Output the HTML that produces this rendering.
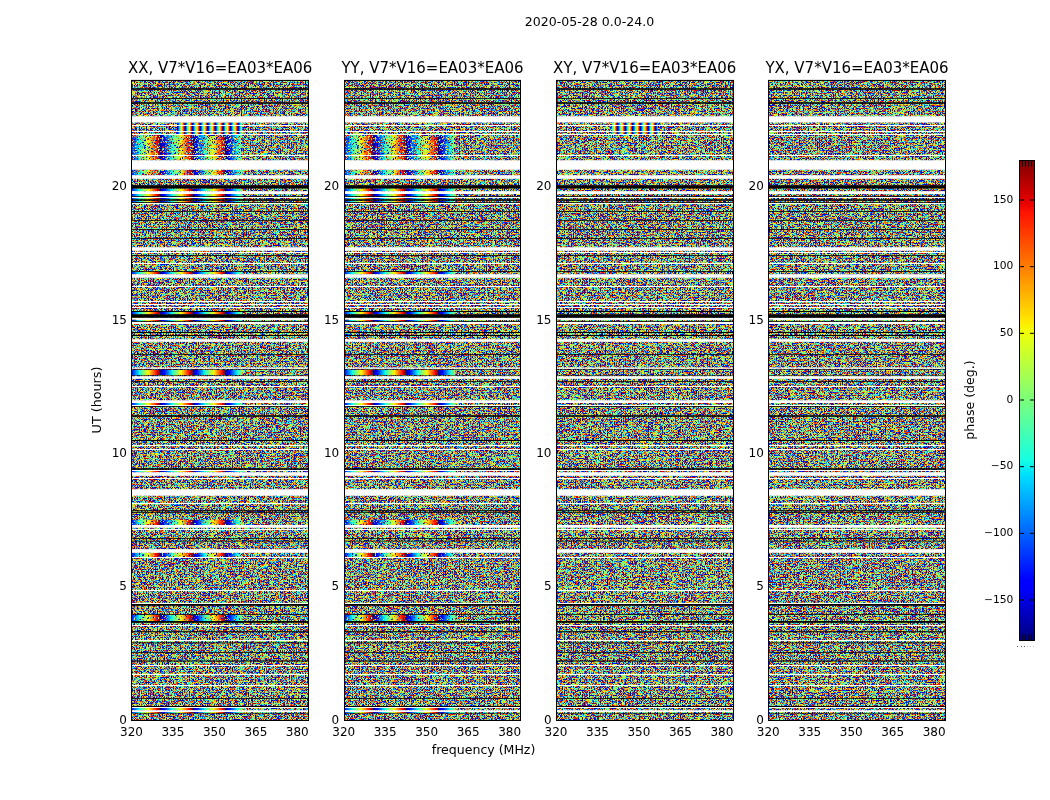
<!DOCTYPE html>
<html><head><meta charset="utf-8"><title>2020-05-28 0.0-24.0</title>
<style>html,body{margin:0;padding:0;background:#fff;width:1050px;height:800px;overflow:hidden}svg{position:absolute;left:0;top:0;display:block}text{font-family:"DejaVu Sans","Liberation Sans",sans-serif;fill:#000}</style></head>
<body>
<svg width="1050" height="800" viewBox="0 0 1050 800">
<defs>
<filter id="n0" x="0" y="0" width="100%" height="100%" filterUnits="objectBoundingBox" color-interpolation-filters="sRGB"><feTurbulence type="fractalNoise" baseFrequency="0.56 0.62" numOctaves="1" seed="3"/><feColorMatrix type="matrix" values="1 0 0 0 0  1 0 0 0 0  1 0 0 0 0  0 0 0 0 1"/><feComponentTransfer><feFuncR type="table" tableValues="0.000 0.000 0.000 0.000 0.000 0.000 0.000 0.000 0.000 0.000 0.000 0.000 0.000 0.000 0.000 0.000 0.000 0.000 0.000 0.000 0.000 0.000 0.000 0.000 0.000 0.000 0.000 0.000 0.000 0.000 0.000 0.000 0.000 0.000 0.000 0.000 0.000 0.000 0.000 0.022 0.162 0.302 0.444 0.585 0.727 0.866 1.000 1.000 1.000 1.000 1.000 1.000 1.000 1.000 0.995 0.910 0.835 0.769 0.708 0.656 0.611 0.575 0.548 0.529 0.517 0.511 0.507 0.504 0.502 0.501 0.500 0.500 0.500 0.500 0.500 0.500 0.500 0.500 0.500 0.500 0.500 0.500 0.500 0.500 0.500 0.500"/><feFuncG type="table" tableValues="0.000 0.000 0.000 0.000 0.000 0.000 0.000 0.000 0.000 0.000 0.000 0.000 0.000 0.000 0.000 0.000 0.000 0.000 0.000 0.000 0.000 0.000 0.000 0.000 0.000 0.000 0.000 0.000 0.000 0.000 0.000 0.000 0.041 0.133 0.234 0.342 0.465 0.601 0.756 0.927 1.000 1.000 1.000 1.000 1.000 1.000 0.919 0.763 0.630 0.513 0.408 0.313 0.228 0.147 0.070 0.001 0.000 0.000 0.000 0.000 0.000 0.000 0.000 0.000 0.000 0.000 0.000 0.000 0.000 0.000 0.000 0.000 0.000 0.000 0.000 0.000 0.000 0.000 0.000 0.000 0.000 0.000 0.000 0.000 0.000 0.000"/><feFuncB type="table" tableValues="0.500 0.500 0.500 0.500 0.500 0.500 0.500 0.500 0.500 0.500 0.500 0.500 0.500 0.500 0.500 0.500 0.501 0.502 0.504 0.506 0.511 0.518 0.529 0.548 0.575 0.610 0.657 0.712 0.778 0.850 0.932 1.000 1.000 1.000 1.000 1.000 1.000 1.000 1.000 0.946 0.806 0.666 0.524 0.382 0.240 0.102 0.000 0.000 0.000 0.000 0.000 0.000 0.000 0.000 0.000 0.000 0.000 0.000 0.000 0.000 0.000 0.000 0.000 0.000 0.000 0.000 0.000 0.000 0.000 0.000 0.000 0.000 0.000 0.000 0.000 0.000 0.000 0.000 0.000 0.000 0.000 0.000 0.000 0.000 0.000 0.000"/></feComponentTransfer></filter>
<filter id="n1" x="0" y="0" width="100%" height="100%" filterUnits="objectBoundingBox" color-interpolation-filters="sRGB"><feTurbulence type="fractalNoise" baseFrequency="0.56 0.62" numOctaves="1" seed="10"/><feColorMatrix type="matrix" values="1 0 0 0 0  1 0 0 0 0  1 0 0 0 0  0 0 0 0 1"/><feComponentTransfer><feFuncR type="table" tableValues="0.000 0.000 0.000 0.000 0.000 0.000 0.000 0.000 0.000 0.000 0.000 0.000 0.000 0.000 0.000 0.000 0.000 0.000 0.000 0.000 0.000 0.000 0.000 0.000 0.000 0.000 0.000 0.000 0.000 0.000 0.000 0.000 0.000 0.000 0.000 0.000 0.000 0.000 0.000 0.022 0.162 0.302 0.444 0.585 0.727 0.866 1.000 1.000 1.000 1.000 1.000 1.000 1.000 1.000 0.995 0.910 0.835 0.769 0.708 0.656 0.611 0.575 0.548 0.529 0.517 0.511 0.507 0.504 0.502 0.501 0.500 0.500 0.500 0.500 0.500 0.500 0.500 0.500 0.500 0.500 0.500 0.500 0.500 0.500 0.500 0.500"/><feFuncG type="table" tableValues="0.000 0.000 0.000 0.000 0.000 0.000 0.000 0.000 0.000 0.000 0.000 0.000 0.000 0.000 0.000 0.000 0.000 0.000 0.000 0.000 0.000 0.000 0.000 0.000 0.000 0.000 0.000 0.000 0.000 0.000 0.000 0.000 0.041 0.133 0.234 0.342 0.465 0.601 0.756 0.927 1.000 1.000 1.000 1.000 1.000 1.000 0.919 0.763 0.630 0.513 0.408 0.313 0.228 0.147 0.070 0.001 0.000 0.000 0.000 0.000 0.000 0.000 0.000 0.000 0.000 0.000 0.000 0.000 0.000 0.000 0.000 0.000 0.000 0.000 0.000 0.000 0.000 0.000 0.000 0.000 0.000 0.000 0.000 0.000 0.000 0.000"/><feFuncB type="table" tableValues="0.500 0.500 0.500 0.500 0.500 0.500 0.500 0.500 0.500 0.500 0.500 0.500 0.500 0.500 0.500 0.500 0.501 0.502 0.504 0.506 0.511 0.518 0.529 0.548 0.575 0.610 0.657 0.712 0.778 0.850 0.932 1.000 1.000 1.000 1.000 1.000 1.000 1.000 1.000 0.946 0.806 0.666 0.524 0.382 0.240 0.102 0.000 0.000 0.000 0.000 0.000 0.000 0.000 0.000 0.000 0.000 0.000 0.000 0.000 0.000 0.000 0.000 0.000 0.000 0.000 0.000 0.000 0.000 0.000 0.000 0.000 0.000 0.000 0.000 0.000 0.000 0.000 0.000 0.000 0.000 0.000 0.000 0.000 0.000 0.000 0.000"/></feComponentTransfer></filter>
<filter id="n2" x="0" y="0" width="100%" height="100%" filterUnits="objectBoundingBox" color-interpolation-filters="sRGB"><feTurbulence type="fractalNoise" baseFrequency="0.56 0.62" numOctaves="1" seed="17"/><feColorMatrix type="matrix" values="1 0 0 0 0  1 0 0 0 0  1 0 0 0 0  0 0 0 0 1"/><feComponentTransfer><feFuncR type="table" tableValues="0.000 0.000 0.000 0.000 0.000 0.000 0.000 0.000 0.000 0.000 0.000 0.000 0.000 0.000 0.000 0.000 0.000 0.000 0.000 0.000 0.000 0.000 0.000 0.000 0.000 0.000 0.000 0.000 0.000 0.000 0.000 0.000 0.000 0.000 0.000 0.000 0.000 0.000 0.000 0.022 0.162 0.302 0.444 0.585 0.727 0.866 1.000 1.000 1.000 1.000 1.000 1.000 1.000 1.000 0.995 0.910 0.835 0.769 0.708 0.656 0.611 0.575 0.548 0.529 0.517 0.511 0.507 0.504 0.502 0.501 0.500 0.500 0.500 0.500 0.500 0.500 0.500 0.500 0.500 0.500 0.500 0.500 0.500 0.500 0.500 0.500"/><feFuncG type="table" tableValues="0.000 0.000 0.000 0.000 0.000 0.000 0.000 0.000 0.000 0.000 0.000 0.000 0.000 0.000 0.000 0.000 0.000 0.000 0.000 0.000 0.000 0.000 0.000 0.000 0.000 0.000 0.000 0.000 0.000 0.000 0.000 0.000 0.041 0.133 0.234 0.342 0.465 0.601 0.756 0.927 1.000 1.000 1.000 1.000 1.000 1.000 0.919 0.763 0.630 0.513 0.408 0.313 0.228 0.147 0.070 0.001 0.000 0.000 0.000 0.000 0.000 0.000 0.000 0.000 0.000 0.000 0.000 0.000 0.000 0.000 0.000 0.000 0.000 0.000 0.000 0.000 0.000 0.000 0.000 0.000 0.000 0.000 0.000 0.000 0.000 0.000"/><feFuncB type="table" tableValues="0.500 0.500 0.500 0.500 0.500 0.500 0.500 0.500 0.500 0.500 0.500 0.500 0.500 0.500 0.500 0.500 0.501 0.502 0.504 0.506 0.511 0.518 0.529 0.548 0.575 0.610 0.657 0.712 0.778 0.850 0.932 1.000 1.000 1.000 1.000 1.000 1.000 1.000 1.000 0.946 0.806 0.666 0.524 0.382 0.240 0.102 0.000 0.000 0.000 0.000 0.000 0.000 0.000 0.000 0.000 0.000 0.000 0.000 0.000 0.000 0.000 0.000 0.000 0.000 0.000 0.000 0.000 0.000 0.000 0.000 0.000 0.000 0.000 0.000 0.000 0.000 0.000 0.000 0.000 0.000 0.000 0.000 0.000 0.000 0.000 0.000"/></feComponentTransfer></filter>
<filter id="n3" x="0" y="0" width="100%" height="100%" filterUnits="objectBoundingBox" color-interpolation-filters="sRGB"><feTurbulence type="fractalNoise" baseFrequency="0.56 0.62" numOctaves="1" seed="24"/><feColorMatrix type="matrix" values="1 0 0 0 0  1 0 0 0 0  1 0 0 0 0  0 0 0 0 1"/><feComponentTransfer><feFuncR type="table" tableValues="0.000 0.000 0.000 0.000 0.000 0.000 0.000 0.000 0.000 0.000 0.000 0.000 0.000 0.000 0.000 0.000 0.000 0.000 0.000 0.000 0.000 0.000 0.000 0.000 0.000 0.000 0.000 0.000 0.000 0.000 0.000 0.000 0.000 0.000 0.000 0.000 0.000 0.000 0.000 0.022 0.162 0.302 0.444 0.585 0.727 0.866 1.000 1.000 1.000 1.000 1.000 1.000 1.000 1.000 0.995 0.910 0.835 0.769 0.708 0.656 0.611 0.575 0.548 0.529 0.517 0.511 0.507 0.504 0.502 0.501 0.500 0.500 0.500 0.500 0.500 0.500 0.500 0.500 0.500 0.500 0.500 0.500 0.500 0.500 0.500 0.500"/><feFuncG type="table" tableValues="0.000 0.000 0.000 0.000 0.000 0.000 0.000 0.000 0.000 0.000 0.000 0.000 0.000 0.000 0.000 0.000 0.000 0.000 0.000 0.000 0.000 0.000 0.000 0.000 0.000 0.000 0.000 0.000 0.000 0.000 0.000 0.000 0.041 0.133 0.234 0.342 0.465 0.601 0.756 0.927 1.000 1.000 1.000 1.000 1.000 1.000 0.919 0.763 0.630 0.513 0.408 0.313 0.228 0.147 0.070 0.001 0.000 0.000 0.000 0.000 0.000 0.000 0.000 0.000 0.000 0.000 0.000 0.000 0.000 0.000 0.000 0.000 0.000 0.000 0.000 0.000 0.000 0.000 0.000 0.000 0.000 0.000 0.000 0.000 0.000 0.000"/><feFuncB type="table" tableValues="0.500 0.500 0.500 0.500 0.500 0.500 0.500 0.500 0.500 0.500 0.500 0.500 0.500 0.500 0.500 0.500 0.501 0.502 0.504 0.506 0.511 0.518 0.529 0.548 0.575 0.610 0.657 0.712 0.778 0.850 0.932 1.000 1.000 1.000 1.000 1.000 1.000 1.000 1.000 0.946 0.806 0.666 0.524 0.382 0.240 0.102 0.000 0.000 0.000 0.000 0.000 0.000 0.000 0.000 0.000 0.000 0.000 0.000 0.000 0.000 0.000 0.000 0.000 0.000 0.000 0.000 0.000 0.000 0.000 0.000 0.000 0.000 0.000 0.000 0.000 0.000 0.000 0.000 0.000 0.000 0.000 0.000 0.000 0.000 0.000 0.000"/></feComponentTransfer></filter>
<filter id="sp" x="0" y="0" width="100%" height="100%" color-interpolation-filters="sRGB"><feTurbulence type="fractalNoise" baseFrequency="0.56 0.62" numOctaves="1" seed="41"/><feColorMatrix type="matrix" values="1 0 0 0 0  1 0 0 0 0  1 0 0 0 0  0 60 0 0 -34.2"/><feComponentTransfer><feFuncR type="table" tableValues="0.000 0.000 0.000 0.000 0.000 0.000 0.000 0.000 0.000 0.000 0.000 0.000 0.000 0.000 0.000 0.000 0.000 0.000 0.000 0.000 0.000 0.000 0.000 0.000 0.000 0.000 0.000 0.000 0.000 0.000 0.000 0.000 0.000 0.000 0.000 0.000 0.000 0.000 0.000 0.022 0.162 0.302 0.444 0.585 0.727 0.866 1.000 1.000 1.000 1.000 1.000 1.000 1.000 1.000 0.995 0.910 0.835 0.769 0.708 0.656 0.611 0.575 0.548 0.529 0.517 0.511 0.507 0.504 0.502 0.501 0.500 0.500 0.500 0.500 0.500 0.500 0.500 0.500 0.500 0.500 0.500 0.500 0.500 0.500 0.500 0.500"/><feFuncG type="table" tableValues="0.000 0.000 0.000 0.000 0.000 0.000 0.000 0.000 0.000 0.000 0.000 0.000 0.000 0.000 0.000 0.000 0.000 0.000 0.000 0.000 0.000 0.000 0.000 0.000 0.000 0.000 0.000 0.000 0.000 0.000 0.000 0.000 0.041 0.133 0.234 0.342 0.465 0.601 0.756 0.927 1.000 1.000 1.000 1.000 1.000 1.000 0.919 0.763 0.630 0.513 0.408 0.313 0.228 0.147 0.070 0.001 0.000 0.000 0.000 0.000 0.000 0.000 0.000 0.000 0.000 0.000 0.000 0.000 0.000 0.000 0.000 0.000 0.000 0.000 0.000 0.000 0.000 0.000 0.000 0.000 0.000 0.000 0.000 0.000 0.000 0.000"/><feFuncB type="table" tableValues="0.500 0.500 0.500 0.500 0.500 0.500 0.500 0.500 0.500 0.500 0.500 0.500 0.500 0.500 0.500 0.500 0.501 0.502 0.504 0.506 0.511 0.518 0.529 0.548 0.575 0.610 0.657 0.712 0.778 0.850 0.932 1.000 1.000 1.000 1.000 1.000 1.000 1.000 1.000 0.946 0.806 0.666 0.524 0.382 0.240 0.102 0.000 0.000 0.000 0.000 0.000 0.000 0.000 0.000 0.000 0.000 0.000 0.000 0.000 0.000 0.000 0.000 0.000 0.000 0.000 0.000 0.000 0.000 0.000 0.000 0.000 0.000 0.000 0.000 0.000 0.000 0.000 0.000 0.000 0.000 0.000 0.000 0.000 0.000 0.000 0.000"/></feComponentTransfer></filter>
<filter id="sp2" x="0" y="0" width="100%" height="100%" color-interpolation-filters="sRGB"><feTurbulence type="fractalNoise" baseFrequency="0.56 0.62" numOctaves="1" seed="77"/><feColorMatrix type="matrix" values="1 0 0 0 0  1 0 0 0 0  1 0 0 0 0  0 60 0 0 -30.6"/><feComponentTransfer><feFuncR type="table" tableValues="0.000 0.000 0.000 0.000 0.000 0.000 0.000 0.000 0.000 0.000 0.000 0.000 0.000 0.000 0.000 0.000 0.000 0.000 0.000 0.000 0.000 0.000 0.000 0.000 0.000 0.000 0.000 0.000 0.000 0.000 0.000 0.000 0.000 0.000 0.000 0.000 0.000 0.000 0.000 0.022 0.162 0.302 0.444 0.585 0.727 0.866 1.000 1.000 1.000 1.000 1.000 1.000 1.000 1.000 0.995 0.910 0.835 0.769 0.708 0.656 0.611 0.575 0.548 0.529 0.517 0.511 0.507 0.504 0.502 0.501 0.500 0.500 0.500 0.500 0.500 0.500 0.500 0.500 0.500 0.500 0.500 0.500 0.500 0.500 0.500 0.500"/><feFuncG type="table" tableValues="0.000 0.000 0.000 0.000 0.000 0.000 0.000 0.000 0.000 0.000 0.000 0.000 0.000 0.000 0.000 0.000 0.000 0.000 0.000 0.000 0.000 0.000 0.000 0.000 0.000 0.000 0.000 0.000 0.000 0.000 0.000 0.000 0.041 0.133 0.234 0.342 0.465 0.601 0.756 0.927 1.000 1.000 1.000 1.000 1.000 1.000 0.919 0.763 0.630 0.513 0.408 0.313 0.228 0.147 0.070 0.001 0.000 0.000 0.000 0.000 0.000 0.000 0.000 0.000 0.000 0.000 0.000 0.000 0.000 0.000 0.000 0.000 0.000 0.000 0.000 0.000 0.000 0.000 0.000 0.000 0.000 0.000 0.000 0.000 0.000 0.000"/><feFuncB type="table" tableValues="0.500 0.500 0.500 0.500 0.500 0.500 0.500 0.500 0.500 0.500 0.500 0.500 0.500 0.500 0.500 0.500 0.501 0.502 0.504 0.506 0.511 0.518 0.529 0.548 0.575 0.610 0.657 0.712 0.778 0.850 0.932 1.000 1.000 1.000 1.000 1.000 1.000 1.000 1.000 0.946 0.806 0.666 0.524 0.382 0.240 0.102 0.000 0.000 0.000 0.000 0.000 0.000 0.000 0.000 0.000 0.000 0.000 0.000 0.000 0.000 0.000 0.000 0.000 0.000 0.000 0.000 0.000 0.000 0.000 0.000 0.000 0.000 0.000 0.000 0.000 0.000 0.000 0.000 0.000 0.000 0.000 0.000 0.000 0.000 0.000 0.000"/></feComponentTransfer></filter>
<linearGradient id="fr" gradientUnits="userSpaceOnUse" x1="28.0" y1="0" x2="60.7" y2="0" spreadMethod="repeat"><stop offset="0" stop-color="#000080"/><stop offset="0.11" stop-color="#0000ff"/><stop offset="0.125" stop-color="#0000ff"/><stop offset="0.34" stop-color="#00dbff"/><stop offset="0.35" stop-color="#00e5f7"/><stop offset="0.375" stop-color="#15ffe2"/><stop offset="0.5" stop-color="#7bff7b"/><stop offset="0.64" stop-color="#efff08"/><stop offset="0.65" stop-color="#f7f600"/><stop offset="0.66" stop-color="#ffec00"/><stop offset="0.89" stop-color="#ff1300"/><stop offset="0.91" stop-color="#e80000"/><stop offset="1" stop-color="#800000"/></linearGradient>
<linearGradient id="ff" gradientUnits="userSpaceOnUse" x1="45" y1="0" x2="52.6" y2="0" spreadMethod="repeat"><stop offset="0" stop-color="#000080"/><stop offset="0.11" stop-color="#0000ff"/><stop offset="0.125" stop-color="#0000ff"/><stop offset="0.34" stop-color="#00dbff"/><stop offset="0.35" stop-color="#00e5f7"/><stop offset="0.375" stop-color="#15ffe2"/><stop offset="0.5" stop-color="#7bff7b"/><stop offset="0.64" stop-color="#efff08"/><stop offset="0.65" stop-color="#f7f600"/><stop offset="0.66" stop-color="#ffec00"/><stop offset="0.89" stop-color="#ff1300"/><stop offset="0.91" stop-color="#e80000"/><stop offset="1" stop-color="#800000"/></linearGradient>
<linearGradient id="cb" gradientUnits="userSpaceOnUse" x1="0" y1="640" x2="0" y2="160"><stop offset="0" stop-color="#000080"/><stop offset="0.11" stop-color="#0000ff"/><stop offset="0.125" stop-color="#0000ff"/><stop offset="0.34" stop-color="#00dbff"/><stop offset="0.35" stop-color="#00e5f7"/><stop offset="0.375" stop-color="#15ffe2"/><stop offset="0.5" stop-color="#7bff7b"/><stop offset="0.64" stop-color="#efff08"/><stop offset="0.65" stop-color="#f7f600"/><stop offset="0.66" stop-color="#ffec00"/><stop offset="0.89" stop-color="#ff1300"/><stop offset="0.91" stop-color="#e80000"/><stop offset="1" stop-color="#800000"/></linearGradient>
</defs>
<text transform="translate(524.80,26.00) scale(1.0050,1)" font-size="12.5">2020-05-28 0.0-24.0</text>
<g transform="translate(132,0)">
<rect x="0" y="80.7" width="176" height="638.8" fill="#778677" filter="url(#n0)"/>
<rect x="0" y="135" width="110.3" height="25" fill="url(#fr)"/><rect x="0" y="135" width="110.3" height="25" filter="url(#sp2)"/><rect x="0" y="170" width="110.3" height="5" fill="url(#fr)"/><rect x="0" y="170" width="110.3" height="5" filter="url(#sp2)"/><rect x="0" y="188.6" width="110.3" height="2.4" fill="url(#fr)"/><rect x="0" y="193.9" width="110.3" height="2.3" fill="url(#fr)"/><rect x="0" y="197.9" width="110.3" height="1.3" fill="url(#fr)"/><rect x="0" y="200.8" width="110.3" height="1.5" fill="url(#fr)"/><rect x="0" y="272" width="110.3" height="2" fill="url(#fr)"/><rect x="0" y="311.9" width="110.3" height="2.3" fill="url(#fr)"/><rect x="0" y="319.9" width="110.3" height="1.1" fill="url(#fr)"/><rect x="0" y="370" width="110.3" height="5" fill="url(#fr)"/><rect x="0" y="402.9" width="110.3" height="2.1" fill="url(#fr)"/><rect x="0" y="471" width="110.3" height="1" fill="url(#fr)"/><rect x="0" y="519.8" width="110.3" height="5.3" fill="url(#fr)"/><rect x="0" y="519.8" width="110.3" height="5.3" filter="url(#sp)"/><rect x="0" y="553" width="110.3" height="4" fill="url(#fr)"/><rect x="0" y="553" width="110.3" height="4" filter="url(#sp)"/><rect x="0" y="614.9" width="110.3" height="6.2" fill="url(#fr)"/><rect x="0" y="614.9" width="110.3" height="6.2" filter="url(#sp)"/><rect x="0" y="707.7" width="110.3" height="2.6" fill="url(#fr)"/><rect x="0" y="711.9" width="110.3" height="1" fill="url(#fr)"/>
<rect x="45" y="122.5" width="65.3" height="2.5" fill="url(#ff)"/><rect x="45" y="126" width="65.3" height="5.5" fill="url(#ff)"/><rect x="45" y="132.3" width="65.3" height="1.7" fill="url(#ff)"/>
<path d="M0 116.15h176v6.35h-176zM0 125h176v1h-176zM0 131h176v1h-176zM0 134h176v1h-176zM0 155h176v1h-176zM0 160.15h176v9.7h-176zM0 175.15h176v3.7h-176zM0 191.15h176v2.75h-176zM0 197h176v1h-176zM0 203h176v1h-176zM0 247.15h176v3.7h-176zM0 252h176v1h-176zM0 263h176v1h-176zM0 274.15h176v3.7h-176zM0 286h176v1h-176zM0 301h176v1h-176zM0 304h176v1h-176zM0 307h176v1h-176zM0 317.8h176v2.1h-176zM0 321.8h176v2.1h-176zM0 339.2h176v2.6h-176zM0 367.5h176v1.35h-176zM0 376.15h176v2.7h-176zM0 386h176v1h-176zM0 400.2h176v2.7h-176zM0 405h176v1h-176zM0 445h176v1h-176zM0 449h176v1h-176zM0 470h176v1h-176zM0 472.15h176v3.65h-176zM0 478h176v1h-176zM0 489.15h176v6.65h-176zM0 503h176v1h-176zM0 525.1h176v2.75h-176zM0 529h176v1h-176zM0 549.15h176v3.7h-176zM0 557h176v1h-176zM0 590h176v1h-176zM0 603h176v1h-176zM0 625h176v1h-176zM0 640h176v1h-176zM0 665h176v1h-176zM0 674h176v1h-176zM0 685h176v1h-176zM0 707h176v1h-176zM0 710.3h176v1.6h-176z" fill="#fff"/>
<path d="M0 88.2h176v1.5h-176zM0 98.1h176v0.7h-176zM0 102.2h176v1.5h-176zM0 185.3h176v3.3h-176zM0 196.2h176v0.8h-176zM0 199.2h176v1.6h-176zM0 202.3h176v0.6h-176zM0 211h176v0.7h-176zM0 220h176v0.7h-176zM0 229h176v0.7h-176zM0 238h176v0.7h-176zM0 255h176v0.7h-176zM0 271.3h176v0.7h-176zM0 311.1h176v0.8h-176zM0 314.2h176v3.6h-176zM0 321h176v0.7h-176zM0 332.1h176v0.8h-176zM0 335.1h176v0.8h-176zM0 354h176v0.7h-176zM0 369h176v0.6h-176zM0 375h176v0.6h-176zM0 381h176v0.7h-176zM0 406h176v0.7h-176zM0 415.2h176v1.6h-176zM0 440h176v1h-176zM0 468.15h176v1.65h-176zM0 510h176v0.7h-176zM0 511.8h176v1h-176zM0 538h176v0.8h-176zM0 540.8h176v0.8h-176zM0 604.1h176v1.6h-176zM0 614.2h176v0.7h-176zM0 621.1h176v1.6h-176zM0 631.2h176v1h-176zM0 642.5h176v0.7h-176zM0 652h176v0.8h-176zM0 660.5h176v1h-176zM0 698h176v0.8h-176zM0 706.1h176v0.8h-176zM0 712.9h176v0.6h-176z" fill="#000"/>
</g>
<path d="M173.5 720v-4.5M173.5 81v4M214.5 720v-4.5M214.5 81v4M256.5 720v-4.5M256.5 81v4M297.5 720v-4.5M297.5 81v4M132 586.67h4M308 586.67h-4M132 453.33h4M308 453.33h-4M132 320.00h4M308 320.00h-4M132 186.67h4M308 186.67h-4" stroke="#000" stroke-width="0.5" fill="none"/>
<rect x="131.5" y="80.4" width="177" height="640.1" fill="none" stroke="#000" stroke-width="1"/>
<text transform="translate(220.15,73.00) scale(0.9370,1)" font-size="16" text-anchor="middle">XX, V7*V16=EA03*EA06</text>
<text transform="translate(131.45,736.00) scale(1.0000,1)" font-size="12" text-anchor="middle">320</text><text transform="translate(172.91,736.00) scale(1.0000,1)" font-size="12" text-anchor="middle">335</text><text transform="translate(214.37,736.00) scale(1.0000,1)" font-size="12" text-anchor="middle">350</text><text transform="translate(255.83,736.00) scale(1.0000,1)" font-size="12" text-anchor="middle">365</text><text transform="translate(297.30,736.00) scale(1.0000,1)" font-size="12" text-anchor="middle">380</text>
<text transform="translate(126.95,724.00) scale(1.0000,1)" font-size="12" text-anchor="end">0</text><text transform="translate(126.95,590.00) scale(1.0000,1)" font-size="12" text-anchor="end">5</text><text transform="translate(126.95,457.00) scale(1.0000,1)" font-size="12" text-anchor="end">10</text><text transform="translate(126.95,324.00) scale(1.0000,1)" font-size="12" text-anchor="end">15</text><text transform="translate(126.95,190.00) scale(1.0000,1)" font-size="12" text-anchor="end">20</text>
<g transform="translate(345,0)">
<rect x="0" y="80.7" width="175" height="638.8" fill="#778677" filter="url(#n1)"/>
<rect x="0" y="135" width="110.3" height="25" fill="url(#fr)"/><rect x="0" y="135" width="110.3" height="25" filter="url(#sp2)"/><rect x="0" y="170" width="110.3" height="5" fill="url(#fr)"/><rect x="0" y="170" width="110.3" height="5" filter="url(#sp2)"/><rect x="0" y="188.6" width="110.3" height="2.4" fill="url(#fr)"/><rect x="0" y="193.9" width="110.3" height="2.3" fill="url(#fr)"/><rect x="0" y="197.9" width="110.3" height="1.3" fill="url(#fr)"/><rect x="0" y="200.8" width="110.3" height="1.5" fill="url(#fr)"/><rect x="0" y="272" width="110.3" height="2" fill="url(#fr)"/><rect x="0" y="311.9" width="110.3" height="2.3" fill="url(#fr)"/><rect x="0" y="319.9" width="110.3" height="1.1" fill="url(#fr)"/><rect x="0" y="370" width="110.3" height="5" fill="url(#fr)"/><rect x="0" y="402.9" width="110.3" height="2.1" fill="url(#fr)"/><rect x="0" y="471" width="110.3" height="1" fill="url(#fr)"/><rect x="0" y="519.8" width="110.3" height="5.3" fill="url(#fr)"/><rect x="0" y="519.8" width="110.3" height="5.3" filter="url(#sp)"/><rect x="0" y="553" width="110.3" height="4" fill="url(#fr)"/><rect x="0" y="553" width="110.3" height="4" filter="url(#sp)"/><rect x="0" y="614.9" width="110.3" height="6.2" fill="url(#fr)"/><rect x="0" y="614.9" width="110.3" height="6.2" filter="url(#sp)"/><rect x="0" y="707.7" width="110.3" height="2.6" fill="url(#fr)"/><rect x="0" y="711.9" width="110.3" height="1" fill="url(#fr)"/>
<path d="M0 116.15h175v6.35h-175zM0 125h175v1h-175zM0 131h175v1h-175zM0 134h175v1h-175zM0 155h175v1h-175zM0 160.15h175v9.7h-175zM0 175.15h175v3.7h-175zM0 191.15h175v2.75h-175zM0 197h175v1h-175zM0 203h175v1h-175zM0 247.15h175v3.7h-175zM0 252h175v1h-175zM0 263h175v1h-175zM0 274.15h175v3.7h-175zM0 286h175v1h-175zM0 301h175v1h-175zM0 304h175v1h-175zM0 307h175v1h-175zM0 317.8h175v2.1h-175zM0 321.8h175v2.1h-175zM0 339.2h175v2.6h-175zM0 367.5h175v1.35h-175zM0 376.15h175v2.7h-175zM0 386h175v1h-175zM0 400.2h175v2.7h-175zM0 405h175v1h-175zM0 445h175v1h-175zM0 449h175v1h-175zM0 470h175v1h-175zM0 472.15h175v3.65h-175zM0 478h175v1h-175zM0 489.15h175v6.65h-175zM0 503h175v1h-175zM0 525.1h175v2.75h-175zM0 529h175v1h-175zM0 549.15h175v3.7h-175zM0 557h175v1h-175zM0 590h175v1h-175zM0 603h175v1h-175zM0 625h175v1h-175zM0 640h175v1h-175zM0 665h175v1h-175zM0 674h175v1h-175zM0 685h175v1h-175zM0 707h175v1h-175zM0 710.3h175v1.6h-175z" fill="#fff"/>
<path d="M0 88.2h175v1.5h-175zM0 98.1h175v0.7h-175zM0 102.2h175v1.5h-175zM0 185.3h175v3.3h-175zM0 196.2h175v0.8h-175zM0 199.2h175v1.6h-175zM0 202.3h175v0.6h-175zM0 211h175v0.7h-175zM0 220h175v0.7h-175zM0 229h175v0.7h-175zM0 238h175v0.7h-175zM0 255h175v0.7h-175zM0 271.3h175v0.7h-175zM0 311.1h175v0.8h-175zM0 314.2h175v3.6h-175zM0 321h175v0.7h-175zM0 332.1h175v0.8h-175zM0 335.1h175v0.8h-175zM0 354h175v0.7h-175zM0 369h175v0.6h-175zM0 375h175v0.6h-175zM0 381h175v0.7h-175zM0 406h175v0.7h-175zM0 415.2h175v1.6h-175zM0 440h175v1h-175zM0 468.15h175v1.65h-175zM0 510h175v0.7h-175zM0 511.8h175v1h-175zM0 538h175v0.8h-175zM0 540.8h175v0.8h-175zM0 604.1h175v1.6h-175zM0 614.2h175v0.7h-175zM0 621.1h175v1.6h-175zM0 631.2h175v1h-175zM0 642.5h175v0.7h-175zM0 652h175v0.8h-175zM0 660.5h175v1h-175zM0 698h175v0.8h-175zM0 706.1h175v0.8h-175zM0 712.9h175v0.6h-175z" fill="#000"/>
</g>
<path d="M385.5 720v-4.5M385.5 81v4M426.5 720v-4.5M426.5 81v4M468.5 720v-4.5M468.5 81v4M509.5 720v-4.5M509.5 81v4M345 586.67h4M520 586.67h-4M345 453.33h4M520 453.33h-4M345 320.00h4M520 320.00h-4M345 186.67h4M520 186.67h-4" stroke="#000" stroke-width="0.5" fill="none"/>
<rect x="344.5" y="80.4" width="176" height="640.1" fill="none" stroke="#000" stroke-width="1"/>
<text transform="translate(432.43,73.00) scale(0.9370,1)" font-size="16" text-anchor="middle">YY, V7*V16=EA03*EA06</text>
<text transform="translate(343.73,736.00) scale(1.0000,1)" font-size="12" text-anchor="middle">320</text><text transform="translate(385.19,736.00) scale(1.0000,1)" font-size="12" text-anchor="middle">335</text><text transform="translate(426.66,736.00) scale(1.0000,1)" font-size="12" text-anchor="middle">350</text><text transform="translate(468.12,736.00) scale(1.0000,1)" font-size="12" text-anchor="middle">365</text><text transform="translate(509.58,736.00) scale(1.0000,1)" font-size="12" text-anchor="middle">380</text>
<text transform="translate(339.23,724.00) scale(1.0000,1)" font-size="12" text-anchor="end">0</text><text transform="translate(339.23,590.00) scale(1.0000,1)" font-size="12" text-anchor="end">5</text><text transform="translate(339.23,457.00) scale(1.0000,1)" font-size="12" text-anchor="end">10</text><text transform="translate(339.23,324.00) scale(1.0000,1)" font-size="12" text-anchor="end">15</text><text transform="translate(339.23,190.00) scale(1.0000,1)" font-size="12" text-anchor="end">20</text>
<g transform="translate(557,0)">
<rect x="0" y="80.7" width="176" height="638.8" fill="#778677" filter="url(#n2)"/>
<rect x="55" y="122.5" width="46" height="2.5" fill="url(#ff)"/><rect x="55" y="126" width="46" height="5.5" fill="url(#ff)"/><rect x="55" y="132.3" width="46" height="1.7" fill="url(#ff)"/>
<path d="M0 116.15h176v6.35h-176zM0 125h176v1h-176zM0 131h176v1h-176zM0 134h176v1h-176zM0 155h176v1h-176zM0 160.15h176v9.7h-176zM0 175.15h176v3.7h-176zM0 191.15h176v2.75h-176zM0 197h176v1h-176zM0 203h176v1h-176zM0 247.15h176v3.7h-176zM0 252h176v1h-176zM0 263h176v1h-176zM0 274.15h176v3.7h-176zM0 286h176v1h-176zM0 301h176v1h-176zM0 304h176v1h-176zM0 307h176v1h-176zM0 317.8h176v2.1h-176zM0 321.8h176v2.1h-176zM0 339.2h176v2.6h-176zM0 367.5h176v1.35h-176zM0 376.15h176v2.7h-176zM0 386h176v1h-176zM0 400.2h176v2.7h-176zM0 405h176v1h-176zM0 445h176v1h-176zM0 449h176v1h-176zM0 470h176v1h-176zM0 472.15h176v3.65h-176zM0 478h176v1h-176zM0 489.15h176v6.65h-176zM0 503h176v1h-176zM0 525.1h176v2.75h-176zM0 529h176v1h-176zM0 549.15h176v3.7h-176zM0 557h176v1h-176zM0 590h176v1h-176zM0 603h176v1h-176zM0 625h176v1h-176zM0 640h176v1h-176zM0 665h176v1h-176zM0 674h176v1h-176zM0 685h176v1h-176zM0 707h176v1h-176zM0 710.3h176v1.6h-176z" fill="#fff"/>
<path d="M0 88.2h176v1.5h-176zM0 98.1h176v0.7h-176zM0 102.2h176v1.5h-176zM0 185.3h176v3.3h-176zM0 196.2h176v0.8h-176zM0 199.2h176v1.6h-176zM0 202.3h176v0.6h-176zM0 211h176v0.7h-176zM0 220h176v0.7h-176zM0 229h176v0.7h-176zM0 238h176v0.7h-176zM0 255h176v0.7h-176zM0 271.3h176v0.7h-176zM0 311.1h176v0.8h-176zM0 314.2h176v3.6h-176zM0 321h176v0.7h-176zM0 332.1h176v0.8h-176zM0 335.1h176v0.8h-176zM0 354h176v0.7h-176zM0 369h176v0.6h-176zM0 375h176v0.6h-176zM0 381h176v0.7h-176zM0 406h176v0.7h-176zM0 415.2h176v1.6h-176zM0 440h176v1h-176zM0 468.15h176v1.65h-176zM0 510h176v0.7h-176zM0 511.8h176v1h-176zM0 538h176v0.8h-176zM0 540.8h176v0.8h-176zM0 604.1h176v1.6h-176zM0 614.2h176v0.7h-176zM0 621.1h176v1.6h-176zM0 631.2h176v1h-176zM0 642.5h176v0.7h-176zM0 652h176v0.8h-176zM0 660.5h176v1h-176zM0 698h176v0.8h-176zM0 706.1h176v0.8h-176zM0 712.9h176v0.6h-176z" fill="#000"/>
</g>
<path d="M597.5 720v-4.5M597.5 81v4M639.5 720v-4.5M639.5 81v4M680.5 720v-4.5M680.5 81v4M722.5 720v-4.5M722.5 81v4M557 586.67h4M733 586.67h-4M557 453.33h4M733 453.33h-4M557 320.00h4M733 320.00h-4M557 186.67h4M733 186.67h-4" stroke="#000" stroke-width="0.5" fill="none"/>
<rect x="556.5" y="80.4" width="177" height="640.1" fill="none" stroke="#000" stroke-width="1"/>
<text transform="translate(644.72,73.00) scale(0.9370,1)" font-size="16" text-anchor="middle">XY, V7*V16=EA03*EA06</text>
<text transform="translate(556.02,736.00) scale(1.0000,1)" font-size="12" text-anchor="middle">320</text><text transform="translate(597.48,736.00) scale(1.0000,1)" font-size="12" text-anchor="middle">335</text><text transform="translate(638.94,736.00) scale(1.0000,1)" font-size="12" text-anchor="middle">350</text><text transform="translate(680.40,736.00) scale(1.0000,1)" font-size="12" text-anchor="middle">365</text><text transform="translate(721.86,736.00) scale(1.0000,1)" font-size="12" text-anchor="middle">380</text>
<text transform="translate(551.52,724.00) scale(1.0000,1)" font-size="12" text-anchor="end">0</text><text transform="translate(551.52,590.00) scale(1.0000,1)" font-size="12" text-anchor="end">5</text><text transform="translate(551.52,457.00) scale(1.0000,1)" font-size="12" text-anchor="end">10</text><text transform="translate(551.52,324.00) scale(1.0000,1)" font-size="12" text-anchor="end">15</text><text transform="translate(551.52,190.00) scale(1.0000,1)" font-size="12" text-anchor="end">20</text>
<g transform="translate(769,0)">
<rect x="0" y="80.7" width="176" height="638.8" fill="#778677" filter="url(#n3)"/>
<path d="M0 116.15h176v6.35h-176zM0 125h176v1h-176zM0 131h176v1h-176zM0 134h176v1h-176zM0 155h176v1h-176zM0 160.15h176v9.7h-176zM0 175.15h176v3.7h-176zM0 191.15h176v2.75h-176zM0 197h176v1h-176zM0 203h176v1h-176zM0 247.15h176v3.7h-176zM0 252h176v1h-176zM0 263h176v1h-176zM0 274.15h176v3.7h-176zM0 286h176v1h-176zM0 301h176v1h-176zM0 304h176v1h-176zM0 307h176v1h-176zM0 317.8h176v2.1h-176zM0 321.8h176v2.1h-176zM0 339.2h176v2.6h-176zM0 367.5h176v1.35h-176zM0 376.15h176v2.7h-176zM0 386h176v1h-176zM0 400.2h176v2.7h-176zM0 405h176v1h-176zM0 445h176v1h-176zM0 449h176v1h-176zM0 470h176v1h-176zM0 472.15h176v3.65h-176zM0 478h176v1h-176zM0 489.15h176v6.65h-176zM0 503h176v1h-176zM0 525.1h176v2.75h-176zM0 529h176v1h-176zM0 549.15h176v3.7h-176zM0 557h176v1h-176zM0 590h176v1h-176zM0 603h176v1h-176zM0 625h176v1h-176zM0 640h176v1h-176zM0 665h176v1h-176zM0 674h176v1h-176zM0 685h176v1h-176zM0 707h176v1h-176zM0 710.3h176v1.6h-176z" fill="#fff"/>
<path d="M0 88.2h176v1.5h-176zM0 98.1h176v0.7h-176zM0 102.2h176v1.5h-176zM0 185.3h176v3.3h-176zM0 196.2h176v0.8h-176zM0 199.2h176v1.6h-176zM0 202.3h176v0.6h-176zM0 211h176v0.7h-176zM0 220h176v0.7h-176zM0 229h176v0.7h-176zM0 238h176v0.7h-176zM0 255h176v0.7h-176zM0 271.3h176v0.7h-176zM0 311.1h176v0.8h-176zM0 314.2h176v3.6h-176zM0 321h176v0.7h-176zM0 332.1h176v0.8h-176zM0 335.1h176v0.8h-176zM0 354h176v0.7h-176zM0 369h176v0.6h-176zM0 375h176v0.6h-176zM0 381h176v0.7h-176zM0 406h176v0.7h-176zM0 415.2h176v1.6h-176zM0 440h176v1h-176zM0 468.15h176v1.65h-176zM0 510h176v0.7h-176zM0 511.8h176v1h-176zM0 538h176v0.8h-176zM0 540.8h176v0.8h-176zM0 604.1h176v1.6h-176zM0 614.2h176v0.7h-176zM0 621.1h176v1.6h-176zM0 631.2h176v1h-176zM0 642.5h176v0.7h-176zM0 652h176v0.8h-176zM0 660.5h176v1h-176zM0 698h176v0.8h-176zM0 706.1h176v0.8h-176zM0 712.9h176v0.6h-176z" fill="#000"/>
</g>
<path d="M810.5 720v-4.5M810.5 81v4M851.5 720v-4.5M851.5 81v4M892.5 720v-4.5M892.5 81v4M934.5 720v-4.5M934.5 81v4M769 586.67h4M945 586.67h-4M769 453.33h4M945 453.33h-4M769 320.00h4M945 320.00h-4M769 186.67h4M945 186.67h-4" stroke="#000" stroke-width="0.5" fill="none"/>
<rect x="768.5" y="80.4" width="177" height="640.1" fill="none" stroke="#000" stroke-width="1"/>
<text transform="translate(857.00,73.00) scale(0.9370,1)" font-size="16" text-anchor="middle">YX, V7*V16=EA03*EA06</text>
<text transform="translate(768.30,736.00) scale(1.0000,1)" font-size="12" text-anchor="middle">320</text><text transform="translate(809.76,736.00) scale(1.0000,1)" font-size="12" text-anchor="middle">335</text><text transform="translate(851.22,736.00) scale(1.0000,1)" font-size="12" text-anchor="middle">350</text><text transform="translate(892.68,736.00) scale(1.0000,1)" font-size="12" text-anchor="middle">365</text><text transform="translate(934.14,736.00) scale(1.0000,1)" font-size="12" text-anchor="middle">380</text>
<text transform="translate(763.80,724.00) scale(1.0000,1)" font-size="12" text-anchor="end">0</text><text transform="translate(763.80,590.00) scale(1.0000,1)" font-size="12" text-anchor="end">5</text><text transform="translate(763.80,457.00) scale(1.0000,1)" font-size="12" text-anchor="end">10</text><text transform="translate(763.80,324.00) scale(1.0000,1)" font-size="12" text-anchor="end">15</text><text transform="translate(763.80,190.00) scale(1.0000,1)" font-size="12" text-anchor="end">20</text>
<text transform="translate(431.80,754.00) scale(1.0050,1)" font-size="12.5">frequency (MHz)</text>
<text transform="translate(101.20,400.00) rotate(-90) scale(1.0200,1)" font-size="12.5" text-anchor="middle">UT (hours)</text>
<rect x="1019.5" y="160.5" width="15" height="480" fill="url(#cb)" stroke="#000" stroke-width="1"/>
<path d="M1019.5 600.00h4.5M1034.5 600.00h-4.5M1019.5 533.33h4.5M1034.5 533.33h-4.5M1019.5 466.67h4.5M1034.5 466.67h-4.5M1019.5 400.00h4.5M1034.5 400.00h-4.5M1019.5 333.33h4.5M1034.5 333.33h-4.5M1019.5 266.67h4.5M1034.5 266.67h-4.5M1019.5 200.00h4.5M1034.5 200.00h-4.5M1022.50 160.5v6M1022.50 640.5v-6M1025.50 160.5v6M1025.50 640.5v-6M1028.50 160.5v6M1028.50 640.5v-6M1031.50 160.5v6M1031.50 640.5v-6" stroke="#000" stroke-width="1" fill="none"/>
<text transform="translate(1013.30,603.00) scale(1.0700,1)" font-size="10" text-anchor="end">−150</text><text transform="translate(1013.30,536.00) scale(1.0700,1)" font-size="10" text-anchor="end">−100</text><text transform="translate(1013.30,469.00) scale(1.0700,1)" font-size="10" text-anchor="end">−50</text><text transform="translate(1013.30,403.00) scale(1.0700,1)" font-size="10" text-anchor="end">0</text><text transform="translate(1013.30,336.00) scale(1.0700,1)" font-size="10" text-anchor="end">50</text><text transform="translate(1013.30,269.00) scale(1.0700,1)" font-size="10" text-anchor="end">100</text><text transform="translate(1013.30,203.00) scale(1.0700,1)" font-size="10" text-anchor="end">150</text>
<text transform="translate(973.80,400.00) rotate(-90) scale(1.0050,1)" font-size="12.5" text-anchor="middle">phase (deg.)</text>
<rect x="1017.00" y="646" width="1" height="1" fill="#000" opacity="0.65"/><rect x="1021.00" y="646" width="1" height="1" fill="#000" opacity="0.65"/><rect x="1024.00" y="646" width="1" height="1" fill="#000" opacity="0.65"/><rect x="1027.00" y="646" width="1" height="1" fill="#000" opacity="0.25"/><rect x="1030.00" y="646" width="1" height="1" fill="#000" opacity="0.25"/><rect x="1033.00" y="646" width="1" height="1" fill="#000" opacity="0.25"/>
</svg>
</body></html>
